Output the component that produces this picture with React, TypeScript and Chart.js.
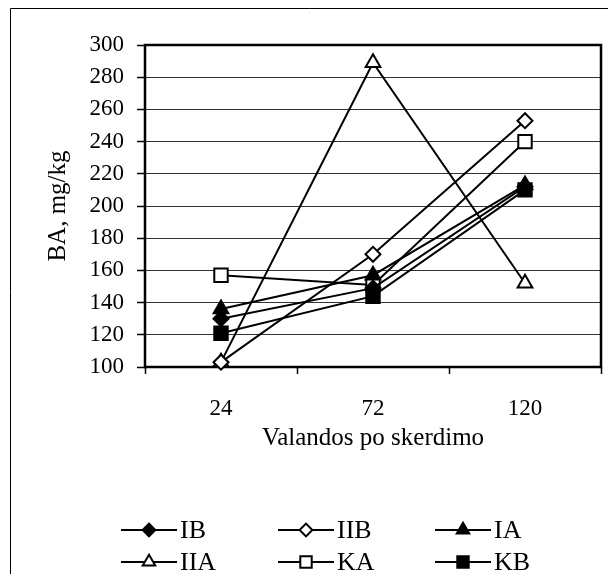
import React, { useEffect, useRef } from 'react';
import { Chart, registerables } from 'chart.js';
import { drawPoint } from 'chart.js/helpers';

Chart.register(...registerables);

const categories = ['24', '72', '120'];
const IB = [130, 149, 212];
const IIB = [103, 170, 253];
const IA = [136, 157, 213];
const IIA = [103, 289, 152];
const KA = [157, 151, 240];
const KB = [121, 144, 210];
const yMin = 100;
const yMax = 300;
const yStep = 20;
const xTitle = 'Valandos po skerdimo';
const yTitle = 'BA, mg/kg';

const FONT = "'Liberation Serif', 'Times New Roman', serif";

type Spec = { label: string; data: number[]; style: string; filled: boolean; radius: number };
const specs: Spec[] = [
  { label: 'IB', data: IB, style: 'rectRot', filled: true, radius: 7.5 },
  { label: 'IIB', data: IIB, style: 'rectRot', filled: false, radius: 7.5 },
  { label: 'IA', data: IA, style: 'triangle', filled: true, radius: 8.5 },
  { label: 'IIA', data: IIA, style: 'triangle', filled: false, radius: 8.5 },
  { label: 'KA', data: KA, style: 'rect', filled: false, radius: 9.5 },
  { label: 'KB', data: KB, style: 'rect', filled: true, radius: 9.5 },
];

const framePlugin = {
  id: 'frame',
  beforeDraw(chart: any) {
    const ctx = chart.ctx;
    ctx.save();
    ctx.fillStyle = '#fff';
    ctx.fillRect(0, 0, chart.width, chart.height);
    ctx.strokeStyle = '#000';
    ctx.lineWidth = 1;
    ctx.beginPath();
    ctx.moveTo(10.5, chart.height + 5);
    ctx.lineTo(10.5, 8.5);
    ctx.lineTo(chart.width + 5, 8.5);
    ctx.stroke();
    ctx.restore();
  },
  beforeDatasetsDraw(chart: any) {
    const { ctx, chartArea: a } = chart;
    ctx.save();
    ctx.strokeStyle = '#000';
    ctx.lineWidth = 2.5;
    ctx.strokeRect(a.left, a.top, a.right - a.left, a.bottom - a.top);
    ctx.restore();
  },
  afterDraw(chart: any) {
    const ctx = chart.ctx;
    const colX = [121, 278, 435];
    const rowY = [530, 562];
    const lineLen = 56;
    ctx.save();
    chart.data.datasets.forEach((ds: any, i: number) => {
      const x0 = colX[i % 3];
      const y = rowY[Math.floor(i / 3)];
      ctx.strokeStyle = '#000';
      ctx.lineWidth = 2;
      ctx.beginPath();
      ctx.moveTo(x0, y);
      ctx.lineTo(x0 + lineLen, y);
      ctx.stroke();
      ctx.fillStyle = ds.pointBackgroundColor;
      ctx.strokeStyle = '#000';
      ctx.lineWidth = 2;
      drawPoint(ctx, { pointStyle: ds.pointStyle, radius: ds.pointRadius * 0.85, rotation: 0, borderWidth: 2 }, x0 + lineLen / 2, y);
      ctx.fillStyle = '#000';
      ctx.font = `26px ${FONT}`;
      ctx.textBaseline = 'middle';
      ctx.textAlign = 'left';
      ctx.fillText(ds.label, x0 + lineLen + 3, y + 1);
    });
    ctx.restore();
  },
};

export default function App() {
  const ref = useRef<HTMLCanvasElement>(null);
  useEffect(() => {
    if (!ref.current) return;
    const chart = new Chart(ref.current, {
      type: 'line',
      data: {
        labels: categories,
        datasets: specs.map((s) => ({
          label: s.label,
          data: s.data,
          borderColor: '#000',
          borderWidth: 2,
          pointStyle: s.style,
          pointRadius: s.radius,
          pointHoverRadius: s.radius,
          pointBorderWidth: 2,
          pointBorderColor: '#000',
          pointBackgroundColor: s.filled ? '#000' : '#fff',
          tension: 0,
          fill: false,
          clip: false,
        })),
      },
      options: {
        responsive: false,
        animation: false,
        layout: { autoPadding: false, padding: { left: 0, right: 7, top: 45, bottom: 117 } },
        plugins: { legend: { display: false }, tooltip: { enabled: false } },
        scales: {
          x: {
            type: 'category',
            offset: true,
            border: { display: false },
            grid: { offset: true, drawOnChartArea: false, drawTicks: true, tickLength: 7, tickColor: '#000', tickWidth: 1.5 },
            ticks: { color: '#000', padding: 21, font: { family: FONT, size: 23 } },
            title: { display: true, text: xTitle, color: '#000', font: { family: FONT, size: 25 }, padding: { top: 0, bottom: 4 } },
            afterFit: (s: any) => { s.height = 90; s.paddingLeft = 0; s.paddingRight = 0; },
          },
          y: {
            min: yMin,
            max: yMax,
            border: { display: false },
            grid: { color: '#333', lineWidth: 1, tickLength: 8, tickColor: '#000', tickWidth: 1.5 },
            ticks: { stepSize: yStep, color: '#000', padding: 13, font: { family: FONT, size: 23 } },
            title: { display: true, text: yTitle, color: '#000', font: { family: FONT, size: 25 }, padding: { top: 43, bottom: 0 } },
            afterFit: (s: any) => { s.width = 145; },
          },
        },
      },
      plugins: [framePlugin],
    } as any);
    return () => chart.destroy();
  }, []);
  return (
    <canvas
      ref={ref}
      width={608}
      height={574}
      style={{ position: 'absolute', left: 0, top: 0, display: 'block' }}
    />
  );
}
